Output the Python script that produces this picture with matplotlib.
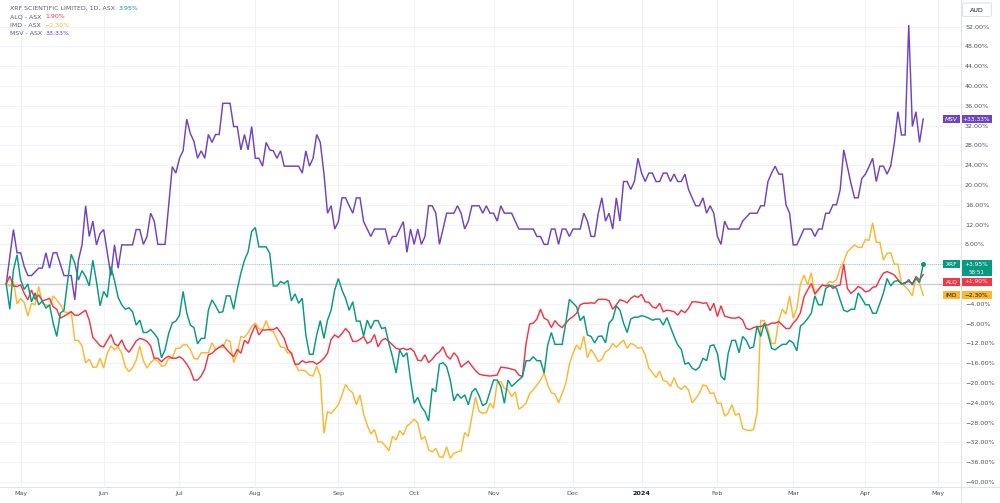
import numpy as np
import pandas as pd
import matplotlib
matplotlib.use("Agg")
import matplotlib.pyplot as plt
from matplotlib.patches import Rectangle, FancyBboxPatch

# ASX trading sessions: the time axis skips weekends and exchange holidays
asx_holidays = ["2023-04-25", "2023-06-12", "2023-12-25", "2023-12-26", "2024-01-01",
                "2024-01-26", "2024-03-29", "2024-04-01", "2024-04-25"]
sessions = pd.bdate_range("2023-04-24", "2024-05-31", freq="C", holidays=asx_holidays)

# (session number, % change since 24 Apr 2023), session 0 = 24 Apr 2023, last = 24 Apr 2024
xrf = [(0, 0), (1, -5.1), (2, 2.8), (3, 5.9), (4, 0.8), (5, -1.1), (6, 0.0), (7, -3.6), (8, -1.8),
       (9, -4.2), (10, -3.4), (11, -4.9), (12, -4.2), (13, -7.9), (14, -10.6), (15, -5.9), (16, -5.3),
       (17, 0.5), (18, 6.0), (19, 4.2), (20, 0.8), (21, 2.7), (22, 1.5), (23, -0.4), (24, 4.8),
       (25, 0.5), (26, -4.4), (27, -1.5), (28, -2.7), (29, 3.5), (30, 0.7), (31, -2.7), (32, -4.2),
       (33, -5.1), (34, -4.8), (35, -5.6), (36, -8.3), (37, -7.3), (38, -9.8), (39, -9.8), (40, -9.2),
       (41, -10.0), (42, -11.0), (43, -14.9), (44, -13.3), (45, -10.0), (46, -7.9), (47, -7.5),
       (48, -6.3), (49, -1.5), (50, -5.8), (51, -8.3), (52, -8.8), (53, -12.1), (54, -11.0),
       (55, -11.0), (56, -5.3), (57, -3.2), (58, -4.4), (59, -5.8), (60, -5.6), (61, -2.4),
       (62, -2.4), (63, -5.1), (64, -1.1), (65, 2.2), (66, 4.8), (67, 6.5), (68, 10.6), (69, 11.4),
       (70, 7.5), (72, 7.5), (73, 6.2), (74, -0.4), (75, -0.4), (76, 0.5), (77, 0.1), (78, 0.7),
       (79, -3.4), (80, -2.0), (81, -3.9), (82, -2.9), (83, -10.3), (84, -14.2), (85, -14.2),
       (86, -10.3), (87, -7.4), (88, -11.0), (89, -7.3), (90, -5.3), (91, -1.2), (92, 1.1),
       (93, -1.2), (94, -2.9), (95, -5.3), (96, -3.6), (97, -7.5), (98, -7.5), (99, -10.5),
       (100, -7.3), (101, -9.0), (102, -7.4), (103, -7.4), (104, -9.0), (105, -8.8), (106, -12.0),
       (107, -14.7), (108, -18.0), (109, -13.3), (110, -14.7), (111, -13.9), (112, -19.4),
       (113, -24.1), (114, -22.9), (115, -24.8), (116, -25.8), (117, -27.7), (118, -21.1),
       (119, -21.8), (120, -16.2), (121, -15.9), (122, -16.7), (123, -19.4), (124, -23.6),
       (125, -22.2), (126, -23.1), (127, -22.4), (128, -24.4), (129, -21.8), (130, -21.1),
       (131, -22.6), (132, -24.6), (133, -24.1), (135, -19.4), (136, -19.4), (137, -20.7),
       (138, -24.1), (139, -19.4), (140, -20.7), (143, -18.7), (144, -15.5), (145, -15.5),
       (146, -14.7), (147, -15.5), (148, -15.5), (149, -18.0), (150, -12.3), (151, -9.8),
       (152, -12.2), (154, -12.2), (155, -7.9), (156, -3.1), (158, -4.6), (159, -7.4), (160, -6.5),
       (161, -10.3), (162, -10.6), (163, -11.9), (164, -10.6), (165, -10.5), (166, -11.9),
       (167, -7.9), (168, -7.1), (169, -4.4), (170, -5.3), (171, -7.9), (172, -9.8), (173, -7.1),
       (174, -6.7), (175, -6.7), (176, -6.4), (177, -6.6), (178, -6.9), (179, -7.3), (180, -7.1),
       (181, -7.1), (182, -8.3), (183, -6.8), (185, -10.6), (186, -12.3), (187, -13.2),
       (188, -16.2), (189, -15.9), (190, -17.0), (191, -17.4), (192, -16.8), (193, -15.0),
       (194, -15.5), (195, -12.5), (196, -12.3), (197, -14.0), (198, -18.6), (199, -19.4),
       (200, -14.0), (201, -11.4), (202, -11.4), (203, -13.9), (204, -10.6), (205, -11.4),
       (206, -13.0), (207, -12.7), (208, -8.5), (209, -10.6), (210, -7.9), (211, -10.1),
       (212, -13.0), (213, -13.3), (214, -12.7), (215, -12.2), (216, -12.2), (217, -11.4),
       (218, -11.9), (219, -13.5), (220, -8.5), (221, -7.9), (222, -7.0), (223, -5.9), (224, -2.4),
       (225, -4.2), (226, -4.2), (227, -0.9), (228, -0.4), (229, -0.4), (230, -0.9), (231, -3.2),
       (232, -5.3), (233, -5.6), (234, -5.1), (235, -5.1), (236, -1.8), (237, -2.9), (238, -4.2),
       (239, -4.2), (240, -5.9), (241, -5.9), (242, -3.9), (243, -1.8), (244, 1.1), (245, -0.4),
       (246, 0.5), (247, 0.7), (248, 0.0), (249, 0.3), (250, 0.5), (251, 0.1), (252, 1.1),
       (253, 0.3), (254, 3.95)]

alq = [(0, 0), (1, 1.6), (2, -0.4), (3, -0.5), (4, -0.2), (5, -1.9), (6, -3.2), (7, -1.2), (8, -3.1),
       (9, -2.2), (10, -3.4), (11, -3.2), (12, -2.9), (13, -4.6), (14, -5.1), (15, -6.9), (16, -6.5),
       (17, -6.1), (18, -5.6), (19, -6.3), (20, -6.3), (21, -5.8), (22, -5.3), (23, -7.3),
       (24, -10.8), (25, -11.6), (26, -12.5), (27, -12.7), (28, -11.4), (29, -10.2), (30, -12.1),
       (31, -12.5), (32, -11.3), (33, -13.0), (34, -13.8), (35, -12.7), (36, -11.5), (37, -11.0),
       (38, -11.2), (39, -11.6), (40, -12.5), (41, -15.0), (42, -15.0), (43, -15.7), (44, -15.0),
       (45, -14.6), (46, -15.0), (47, -15.0), (48, -14.7), (49, -15.2), (50, -16.2), (51, -17.4),
       (52, -19.4), (53, -19.4), (54, -18.6), (55, -17.2), (56, -14.3), (57, -14.0), (58, -13.3),
       (59, -12.8), (60, -12.3), (61, -13.2), (62, -14.0), (63, -14.7), (64, -13.2), (65, -14.0),
       (66, -11.4), (67, -12.0), (68, -10.0), (69, -8.3), (70, -10.3), (71, -9.3), (72, -9.3),
       (73, -9.2), (74, -9.2), (75, -8.8), (76, -9.8), (77, -11.0), (78, -13.2), (79, -14.0),
       (80, -16.2), (81, -16.2), (82, -15.5), (83, -15.9), (84, -15.7), (85, -15.7), (86, -16.2),
       (87, -15.7), (88, -15.0), (89, -14.0), (90, -11.2), (91, -10.3), (92, -10.8), (93, -10.0),
       (94, -9.0), (95, -9.8), (96, -11.6), (97, -11.6), (98, -11.2), (99, -10.6), (100, -12.0),
       (101, -11.6), (102, -10.2), (103, -12.7), (104, -11.4), (105, -11.0), (106, -11.6),
       (107, -12.3), (108, -13.0), (109, -13.2), (110, -13.0), (111, -13.3), (112, -13.0),
       (113, -13.7), (114, -15.4), (115, -15.5), (116, -14.3), (117, -15.9), (118, -15.2),
       (119, -14.3), (120, -13.7), (121, -12.7), (122, -14.5), (123, -15.2), (124, -13.9),
       (125, -14.7), (126, -16.8), (127, -16.2), (128, -15.6), (129, -16.6), (130, -17.5),
       (131, -18.2), (132, -18.4), (134, -18.6), (136, -18.4), (137, -16.8), (139, -17.0),
       (141, -17.4), (142, -18.4), (143, -18.7), (144, -12.0), (145, -8.1), (146, -7.9),
       (147, -7.1), (148, -5.1), (149, -6.9), (150, -7.3), (151, -8.8), (152, -7.4), (153, -8.3),
       (154, -8.8), (155, -7.9), (156, -7.1), (157, -6.6), (158, -5.9), (159, -4.2), (160, -3.9),
       (161, -3.9), (162, -3.8), (163, -3.9), (164, -3.1), (165, -3.1), (166, -3.1), (167, -3.4),
       (168, -5.1), (169, -4.2), (170, -3.2), (171, -3.4), (172, -3.8), (173, -2.9), (174, -2.4),
       (175, -2.7), (176, -2.1), (177, -3.6), (178, -3.7), (179, -4.6), (180, -4.9), (181, -3.9),
       (182, -5.6), (183, -5.3), (184, -5.4), (185, -5.6), (186, -6.3), (187, -5.3), (188, -5.8),
       (189, -4.9), (190, -3.6), (191, -3.6), (192, -3.7), (193, -3.9), (194, -3.8), (195, -5.4),
       (196, -3.9), (197, -6.6), (198, -4.4), (199, -6.5), (200, -6.7), (201, -6.9), (202, -6.9),
       (203, -6.7), (204, -7.3), (205, -9.0), (206, -9.2), (207, -8.8), (208, -8.6), (209, -8.6),
       (210, -8.3), (211, -8.3), (212, -7.9), (213, -7.9), (214, -7.6), (215, -8.3), (216, -9.0),
       (217, -9.0), (218, -7.9), (219, -7.1), (220, -5.8), (221, -2.6), (222, -1.2), (223, 0.1),
       (224, -2.0), (225, -1.1), (226, -0.2), (227, -0.4), (228, -0.2), (229, -0.9), (230, -0.4),
       (231, -0.2), (232, 4.0), (233, -0.9), (234, -1.9), (235, -1.3), (236, -0.5), (237, -0.9),
       (238, -1.6), (239, -1.4), (240, -0.7), (241, -0.5), (242, 1.0), (243, 2.2), (244, 2.5),
       (245, 2.2), (246, 1.8), (247, 0.9), (248, 0.0), (249, 0.1), (250, 0.9), (251, -0.2),
       (252, 1.5), (253, 0.8), (254, 1.9)]

imd = [(0, 0), (1, -0.4), (2, 0.5), (3, -4.0), (4, -2.9), (5, -3.8), (6, -6.5), (7, -3.9), (8, -4.2),
       (9, -0.5), (10, -3.9), (11, -4.2), (12, -4.6), (13, -2.4), (14, -3.2), (15, -4.2), (16, -5.6),
       (17, -5.8), (18, -5.6), (19, -11.4), (20, -11.4), (21, -12.5), (22, -15.9), (23, -15.2),
       (24, -16.8), (25, -16.8), (26, -15.0), (27, -17.0), (28, -14.0), (29, -12.5), (30, -13.3),
       (31, -12.7), (32, -14.0), (33, -16.7), (34, -17.7), (35, -16.9), (36, -15.4), (37, -12.5),
       (38, -15.5), (39, -17.0), (40, -15.9), (41, -15.2), (42, -15.5), (43, -16.6), (44, -16.5),
       (45, -15.0), (46, -15.0), (47, -13.0), (48, -13.0), (49, -12.3), (50, -12.3), (51, -13.2),
       (52, -15.0), (53, -15.2), (54, -13.9), (55, -13.9), (56, -13.9), (57, -11.9), (58, -13.2),
       (59, -12.8), (60, -12.8), (61, -11.3), (62, -11.6), (63, -15.9), (64, -14.0), (65, -10.6),
       (66, -10.8), (67, -9.8), (68, -8.6), (69, -7.9), (70, -9.0), (71, -9.3), (72, -7.4),
       (73, -9.3), (74, -9.6), (75, -11.2), (76, -12.7), (77, -12.8), (78, -14.0), (79, -13.9),
       (80, -16.2), (81, -17.5), (82, -17.4), (83, -17.6), (84, -18.4), (85, -18.6), (86, -16.6),
       (87, -18.5), (88, -30.2), (89, -25.8), (90, -26.1), (91, -25.3), (92, -24.4), (93, -22.4),
       (94, -20.3), (95, -21.4), (96, -22.0), (97, -24.4), (98, -22.4), (99, -26.3), (100, -28.5),
       (101, -30.3), (102, -29.4), (103, -31.9), (104, -31.9), (105, -32.7), (106, -33.7),
       (107, -30.8), (108, -31.5), (109, -29.6), (110, -30.5), (111, -28.7), (112, -28.1),
       (113, -27.3), (114, -28.1), (115, -31.4), (116, -30.8), (117, -33.5), (118, -33.9),
       (119, -33.2), (120, -34.9), (121, -35.0), (122, -32.9), (123, -35.2), (124, -34.2),
       (125, -33.9), (126, -33.7), (127, -30.0), (128, -30.8), (129, -26.8), (130, -22.8),
       (131, -25.8), (132, -26.1), (133, -26.0), (134, -24.1), (135, -25.1), (136, -19.9),
       (137, -19.7), (138, -21.1), (139, -21.4), (140, -22.8), (141, -21.8), (142, -25.3),
       (143, -24.8), (144, -24.1), (145, -22.1), (146, -21.4), (147, -20.4), (148, -19.4),
       (149, -18.0), (150, -20.4), (151, -22.0), (152, -22.2), (153, -24.0), (154, -22.1),
       (155, -20.1), (156, -16.2), (157, -14.0), (158, -12.3), (159, -13.3), (160, -10.5),
       (161, -14.9), (162, -13.2), (163, -14.3), (164, -15.7), (165, -15.2), (166, -13.7),
       (167, -13.3), (168, -12.0), (169, -12.8), (170, -12.0), (171, -11.3), (172, -13.0),
       (173, -12.0), (174, -12.3), (175, -13.0), (176, -12.8), (177, -14.3), (178, -17.0),
       (179, -17.9), (180, -18.9), (181, -17.6), (182, -19.5), (183, -19.7), (184, -20.7),
       (185, -18.9), (186, -20.7), (187, -21.3), (188, -20.6), (189, -21.4), (190, -24.0),
       (191, -23.1), (192, -22.1), (193, -20.4), (194, -20.6), (195, -22.1), (196, -22.0),
       (197, -24.1), (198, -24.1), (199, -26.7), (200, -26.1), (201, -24.4), (202, -26.5),
       (203, -26.1), (204, -29.2), (205, -29.5), (206, -29.6), (207, -29.4), (208, -26.0),
       (209, -7.4), (210, -7.4), (211, -9.3), (212, -12.0), (213, -12.0), (214, -7.3), (215, -5.1),
       (216, -6.1), (217, -2.4), (218, -6.9), (219, -4.9), (220, 0.0), (221, 1.8), (222, -0.2),
       (223, 2.3), (224, -2.2), (225, -1.2), (226, -0.2), (227, -0.4), (228, 0.5), (229, 0.3),
       (230, 0.9), (231, 3.2), (232, 4.5), (233, 6.5), (234, 7.2), (235, 7.9), (236, 7.4),
       (237, 7.4), (238, 9.0), (239, 8.8), (240, 12.4), (241, 8.4), (242, 8.4), (243, 4.8),
       (244, 6.2), (245, 6.3), (246, 4.0), (247, 4.0), (248, 0.1), (249, -0.5), (250, -1.3),
       (251, -2.4), (252, 1.5), (253, 0.1), (254, -2.3)]

msv = [(0, 0), (2, 11.0), (3, 6.3), (4, 6.3), (5, 3.5), (6, 1.7), (7, 1.7), (9, 3.2), (10, 3.2),
       (11, 6.3), (12, 3.2), (13, 6.3), (14, 6.3), (16, 1.7), (18, 1.7), (19, -3.2), (20, 4.8),
       (21, 7.9), (22, 15.8), (23, 9.6), (24, 12.7), (25, 7.9), (26, 10.2), (27, 11.0), (28, 6.4),
       (29, 1.7), (30, 7.9), (31, 3.2), (32, 7.9), (35, 7.9), (36, 11.0), (37, 11.0), (38, 8.0),
       (39, 9.6), (40, 14.3), (41, 12.7), (42, 8.0), (44, 8.0), (45, 15.8), (46, 23.7), (47, 22.4),
       (48, 25.4), (49, 26.9), (50, 33.3), (51, 30.4), (52, 28.8), (53, 25.4), (54, 26.9),
       (55, 25.4), (56, 30.2), (57, 28.6), (58, 30.2), (59, 30.2), (60, 36.5), (62, 36.5),
       (63, 31.8), (64, 31.8), (65, 27.1), (66, 30.2), (67, 27.1), (68, 31.8), (69, 25.4),
       (70, 25.4), (71, 23.8), (72, 28.6), (73, 27.1), (74, 26.9), (75, 25.4), (76, 26.9),
       (77, 23.8), (81, 23.8), (82, 22.4), (83, 26.9), (84, 23.8), (85, 25.4), (86, 30.2),
       (87, 28.6), (88, 22.4), (89, 14.3), (90, 15.8), (91, 11.1), (92, 12.6), (93, 17.4),
       (94, 17.4), (95, 15.8), (96, 14.3), (97, 17.4), (98, 17.4), (99, 12.6), (100, 11.1),
       (101, 9.6), (102, 11.1), (105, 11.1), (106, 8.0), (107, 9.6), (108, 9.6), (110, 12.6),
       (111, 6.4), (112, 11.1), (113, 8.0), (114, 11.1), (115, 8.0), (116, 9.6), (117, 15.8),
       (118, 15.8), (119, 14.3), (120, 8.0), (121, 11.1), (122, 14.3), (124, 14.3), (125, 15.8),
       (126, 14.3), (127, 11.1), (128, 12.7), (129, 15.8), (131, 15.8), (132, 14.3), (133, 15.8),
       (134, 14.3), (135, 14.3), (136, 12.7), (137, 15.8), (138, 14.3), (140, 14.3), (142, 11.1),
       (146, 11.1), (147, 9.6), (148, 9.6), (149, 8.0), (150, 8.0), (151, 11.1), (152, 11.1),
       (153, 8.0), (154, 11.1), (155, 11.1), (156, 9.6), (157, 11.1), (159, 11.1), (160, 14.3),
       (161, 12.7), (162, 9.6), (163, 9.6), (164, 14.3), (165, 17.4), (166, 12.7), (167, 14.3),
       (168, 11.1), (169, 17.4), (170, 12.7), (171, 20.7), (172, 20.7), (173, 19.1), (174, 20.7),
       (175, 25.4), (176, 22.4), (177, 20.7), (178, 22.4), (179, 22.4), (180, 20.7), (181, 20.7),
       (182, 22.4), (183, 22.4), (184, 20.7), (185, 22.2), (186, 20.7), (187, 20.7), (188, 22.2),
       (189, 19.1), (190, 17.4), (191, 15.8), (192, 15.8), (193, 17.4), (194, 14.3), (195, 15.8),
       (196, 14.3), (197, 9.6), (198, 8.0), (199, 12.7), (200, 11.1), (203, 11.1), (204, 12.7),
       (205, 13.5), (206, 14.3), (208, 14.3), (209, 15.8), (210, 15.8), (211, 20.7), (212, 22.4),
       (213, 23.8), (214, 22.2), (215, 22.2), (216, 16.0), (217, 14.3), (218, 7.9), (219, 7.9),
       (221, 11.1), (223, 11.1), (224, 9.6), (225, 11.1), (226, 11.1), (227, 14.3), (228, 14.3),
       (229, 16.0), (230, 16.0), (231, 19.0), (232, 27.1), (233, 23.7), (234, 20.3), (235, 17.4),
       (236, 17.4), (237, 21.3), (238, 22.2), (239, 23.7), (240, 25.4), (241, 20.7), (242, 23.8),
       (243, 23.8), (244, 22.2), (245, 23.8), (246, 28.4), (247, 34.8), (248, 30.1), (249, 30.1),
       (250, 52.3), (251, 31.8), (252, 34.8), (253, 28.6), (254, 33.33)]

names = ["XRF", "ALQ", "IMD", "MSV"]
legend_names = ["XRF SCIENTIFIC LIMITED, 1D, ASX", "ALQ - ASX", "IMD - ASX", "MSV - ASX"]
last_pct = [3.95, 1.90, -2.30, 33.33]
colors = {"XRF": "#089981", "ALQ": "#f23645", "IMD": "#fdb731", "MSV": "#6e44c2"}
countdown = "58:51"

W, H = 1000, 503
fig = plt.figure(figsize=(W / 100, H / 100), dpi=100)
ax = fig.add_axes([0, 17 / H, 0.96, 486 / H])
ax.set_xlim(-1.72, 264.2)
ax.set_ylim(-40.81, 57.37)
for s in ax.spines.values():
    s.set_visible(False)


def to_px(v):
    return H - ax.transData.transform((0, v))[1]


# price label boxes on the right scale (stacked so they don't collide)
order = sorted(range(4), key=lambda i: to_px(last_pct[i]))
boxes = []
prev_bottom = -100
for i in order:
    h = 16 if names[i] == "XRF" else 8
    top = to_px(last_pct[i]) - 4
    if top < prev_bottom + 1.5:
        top = prev_bottom + 1.5
    prev_bottom = top + h
    boxes.append((i, top, h))

grid_c = "#f0f3fa"
yt = np.arange(-40, 53, 4)
ax.set_yticks(yt)
# tick labels hidden behind a price label box are not shown
ylabels = []
for v in yt:
    py = to_px(v)
    covered = any(top - 1 <= py <= top + h + 1 for _, top, h in boxes)
    ylabels.append("" if covered else f"{v:.2f}%".replace("-", "\u2212"))
ax.set_yticklabels(ylabels)
ax.yaxis.tick_right()

# month ticks at the first session of each month
month_pos = [i for i in range(1, len(sessions)) if sessions[i].month != sessions[i - 1].month]
month_lab = [sessions[i].strftime("%Y") if sessions[i].month == 1 else sessions[i].strftime("%b")
             for i in month_pos]
ax.set_xticks(month_pos)
ax.set_xticklabels(month_lab)
ax.grid(True, color=grid_c, lw=0.8)
ax.set_axisbelow(True)
ax.tick_params(axis="both", length=0, labelsize=4.6, colors="#50535e")
ax.tick_params(axis="y", pad=3.6)
ax.tick_params(axis="x", pad=3.3)
for t in ax.get_xticklabels():
    if t.get_text() == "2024":
        t.set_fontweight("bold")
        t.set_color("#131722")

ax.axhline(0, color="#cbc8dc", lw=0.9, zorder=1)
ax.axhline(last_pct[0], color=colors["XRF"], lw=0.6, ls=(0, (1, 1.5)), alpha=0.55, zorder=1)

data = {"XRF": xrf, "ALQ": alq, "IMD": imd, "MSV": msv}
for name in ["MSV", "IMD", "ALQ", "XRF"]:
    x, y = zip(*data[name])
    ax.plot(x, y, color=colors[name], lw=1.05, solid_joinstyle="miter", zorder=3)
xe, ye = data["XRF"][-1]
ax.plot([xe], [ye], "o", ms=2.6, color=colors["XRF"], zorder=4)

# overlay in pixel units for the chart chrome
ov = fig.add_axes([0, 0, 1, 1])
ov.set_xlim(0, W)
ov.set_ylim(H, 0)
ov.axis("off")
ov.patch.set_alpha(0)
sep = "#e0e3eb"
ov.plot([960.5, 960.5], [0, H], color=sep, lw=0.8)
ov.plot([0, W], [486.5, 486.5], color=sep, lw=0.8)

ov.add_patch(FancyBboxPatch((962.5, 3), 29, 13.5, boxstyle="round,pad=0,rounding_size=2",
                            fc="white", ec=sep, lw=0.8))
ov.text(977, 10, "AUD", fontsize=4.6, color="#131722", ha="center", va="center")

# legend, top left
for i, (lab, v, n) in enumerate(zip(legend_names, last_pct, names)):
    t = ov.text(10, 8.5 + 8.3 * i, lab, fontsize=4.5, color="#5d606b", va="center")
    ov.annotate(f"{v:.2f}%".replace("-", "\u2212"), xy=(1, 0.5), xycoords=t, xytext=(2.5, 0),
                textcoords="offset points", va="center", ha="left", fontsize=4.5, color=colors[n])

for i, top, h in boxes:
    n = names[i]
    c = colors[n]
    tc = "#131722" if n == "IMD" else "white"
    ov.add_patch(Rectangle((943, top), 17, 8, fc=c, ec="none"))
    ov.add_patch(Rectangle((960.5, top), 31.5, h, fc=c, ec="none"))
    ov.text(951.5, top + 4, n, fontsize=4.2, color=tc, ha="center", va="center",
            style="italic" if n == "MSV" else "normal")
    ov.text(976, top + 4, f"{last_pct[i]:+.2f}%".replace("-", "\u2212"), fontsize=4.2, color=tc,
            ha="center", va="center")
    if n == "XRF":
        ov.text(976, top + 12.3, countdown, fontsize=4.0, color=tc, ha="center", va="center")

fig.savefig("out.png", dpi=100)
